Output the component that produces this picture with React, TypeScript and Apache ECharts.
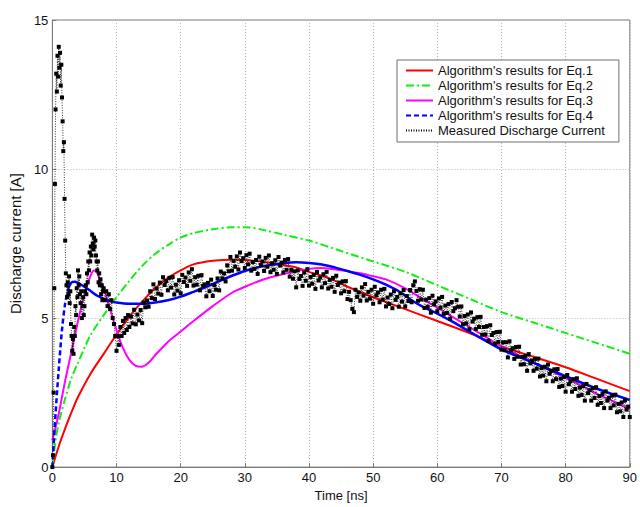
import React, { useEffect, useRef } from "react";
import * as echarts from "echarts";

const xTicks = [0, 10, 20, 30, 40, 50, 60, 70, 80, 90];
const yTicks = [0, 5, 10, 15];

const seriesNames = [
  "Algorithm's results for Eq.1",
  "Algorithm's results for Eq.2",
  "Algorithm's results for Eq.3",
  "Algorithm's results for Eq.4",
  "Measured Discharge Current",
];

const eq1: [number, number][] = [
  [0, 0], [1, 0.7], [2, 1.3], [3, 1.85], [4, 2.35], [6, 3.15], [8, 3.8], [10, 4.45],
  [12, 5.05], [14, 5.55], [16, 6.0], [18, 6.35], [20, 6.6], [22, 6.8], [25, 6.92],
  [28, 6.96], [30, 6.95], [33, 6.88], [36, 6.78], [38, 6.7], [40, 6.55], [43, 6.35],
  [46, 6.05], [50, 5.7], [55, 5.3], [60, 4.9], [65, 4.5], [70, 4.05], [75, 3.7],
  [80, 3.35], [85, 2.95], [90, 2.55],
];

const eq2: [number, number][] = [
  [0, 0], [0.5, 0.9], [1, 1.5], [2, 2.3], [3, 3.0], [4, 3.5], [5, 4.0], [6, 4.45],
  [8, 5.1], [10, 5.7], [12, 6.25], [14, 6.75], [16, 7.15], [18, 7.45], [20, 7.7],
  [22, 7.85], [25, 7.98], [28, 8.05], [30, 8.05], [33, 7.95], [36, 7.8], [40, 7.6],
  [45, 7.25], [50, 6.9], [55, 6.55], [60, 6.1], [65, 5.65], [70, 5.2], [75, 4.85],
  [80, 4.5], [85, 4.15], [90, 3.8],
];

const eq3: [number, number][] = [
  [0, 0.9], [1, 1.8], [2, 2.9], [3, 3.9], [4, 4.9], [5, 5.8], [6, 6.45], [6.5, 6.6],
  [7, 6.5], [8, 6.0], [9, 5.3], [10, 4.6], [11, 4.0], [12, 3.6], [13, 3.4], [14, 3.37],
  [15, 3.5], [16, 3.75], [18, 4.2], [20, 4.55], [22, 4.9], [25, 5.4], [28, 5.85],
  [30, 6.05], [33, 6.3], [36, 6.48], [40, 6.65], [42, 6.68], [45, 6.6], [48, 6.5],
  [50, 6.4], [52, 6.3], [55, 6.0], [58, 5.6], [60, 5.35], [65, 4.7], [70, 4.05],
  [75, 3.5], [80, 3.0], [85, 2.45], [90, 1.95],
];

const eq4: [number, number][] = [
  [0, 0], [0.5, 1.8], [1, 3.3], [1.5, 4.6], [2, 5.5], [2.5, 6.0], [3, 6.2], [3.5, 6.22],
  [4, 6.18], [5, 6.05], [6, 5.9], [7, 5.75], [8, 5.65], [9, 5.57], [10, 5.52], [12, 5.48],
  [14, 5.48], [16, 5.52], [18, 5.6], [20, 5.72], [22, 5.88], [24, 6.05], [26, 6.24],
  [28, 6.42], [30, 6.58], [32, 6.7], [34, 6.78], [36, 6.84], [38, 6.87], [40, 6.85],
  [42, 6.8], [44, 6.7], [46, 6.58], [48, 6.45], [50, 6.3], [52, 6.12], [54, 5.9],
  [56, 5.6], [58, 5.35], [60, 5.15], [62, 4.92], [65, 4.55], [70, 3.95], [75, 3.5],
  [80, 3.05], [85, 2.62], [90, 2.25],
];

// measured samples: [time ns, current A]
const measuredEarly: [number, number][] = [
  [0, 0], [0.1, 0.4], [0.2, 2.5], [0.3, 6], [0.4, 9.5], [0.5, 12], [0.6, 13.2], [0.7, 12.6],
  [0.8, 13.8], [0.9, 13.1], [1.0, 14.1], [1.1, 13.4], [1.2, 13.9], [1.3, 12.8], [1.4, 13.5],
  [1.5, 12.4], [1.6, 11.6], [1.7, 10.6], [1.8, 10.9], [1.9, 9.0], [2.0, 7.6], [2.1, 6.5],
  [2.2, 6.1], [2.3, 5.7], [2.4, 6.2], [2.5, 5.8], [2.6, 6.4], [2.7, 5.5], [2.8, 5.9],
  [2.9, 4.8], [3.0, 4.4], [3.1, 3.9], [3.2, 4.3], [3.3, 3.8], [3.4, 4.7], [3.5, 4.4],
  [3.6, 5.4], [3.7, 5.1], [3.8, 6.0], [3.9, 5.7], [4.0, 6.6], [4.1, 6.1], [4.2, 6.4],
  [4.3, 5.8], [4.4, 5.5], [4.5, 5.9], [4.6, 5.0], [4.7, 5.4], [4.8, 5.7], [4.9, 5.1],
  [5.0, 5.4], [5.1, 5.9], [5.2, 6.1], [5.3, 5.8], [5.4, 6.5], [5.5, 6.2], [5.6, 6.9],
  [5.7, 6.6], [5.8, 7.2], [5.9, 6.9], [6.0, 7.4], [6.1, 7.1], [6.2, 7.8], [6.3, 7.5],
  [6.4, 7.3], [6.5, 7.7], [6.6, 7.4], [6.7, 7.6], [6.8, 7.1], [6.9, 6.9], [7.0, 6.6],
  [7.1, 6.9], [7.2, 6.2], [7.3, 6.5], [7.4, 6.1], [7.5, 6.3], [7.6, 5.8], [7.7, 6.1],
  [7.8, 5.6], [7.9, 5.9], [8.0, 6.0], [8.2, 5.6], [8.4, 5.9], [8.6, 5.4], [8.8, 5.8],
  [9.0, 5.3], [9.2, 5.6], [9.4, 5.0], [9.6, 4.8], [9.8, 4.4], [10.0, 3.9], [10.2, 4.4],
  [10.4, 4.1], [10.6, 4.7], [10.8, 4.4], [11.0, 4.9], [11.2, 4.5], [11.4, 5.0], [11.6, 4.6],
  [11.8, 5.1], [12.0, 4.7],
];

const measuredLate: [number, number][] = [
  [12.25, 5.05], [12.5, 4.82], [12.75, 5.28], [13, 4.79], [13.25, 5.12], [13.5, 4.92], [13.75, 5.27],
  [14, 4.83], [14.25, 5.52], [14.5, 5.36], [14.75, 5.59], [15, 5.38], [15.25, 5.9], [15.5, 5.67], [15.75, 6.13],
  [16, 5.64], [16.25, 5.99], [16.5, 5.82], [16.75, 6.19], [17, 5.78], [17.25, 6.37], [17.5, 6.11], [17.75, 6.24],
  [18, 5.93], [18.25, 6.35], [18.5, 6.02], [18.75, 6.38], [19, 5.79], [19.25, 6.12], [19.5, 5.92], [19.75, 6.27],
  [20, 5.83], [20.25, 6.45], [20.5, 6.21], [20.75, 6.36], [21, 6.08], [21.25, 6.53], [21.5, 6.25], [21.75, 6.64],
  [22, 6.09], [22.25, 6.37], [22.5, 6.12], [22.75, 6.42], [23, 5.93], [23.25, 6.44], [23.5, 6.08], [23.75, 6.13],
  [24, 5.73], [24.25, 6.18], [24.5, 5.9], [24.75, 6.29], [25, 5.74], [25.25, 6.1], [25.5, 5.95], [25.75, 6.33],
  [26, 5.93], [26.25, 6.56], [26.5, 6.33], [26.75, 6.5], [27, 6.23], [27.25, 6.77], [27.5, 6.57], [27.75, 7.05],
  [28, 6.59], [28.25, 6.92], [28.5, 6.72], [28.75, 7.07], [29, 6.63], [29.25, 7.2], [29.5, 6.91], [29.75, 7.01],
  [30, 6.68], [30.25, 7.11], [30.5, 6.8], [30.75, 7.16], [31, 6.59], [31.25, 6.88], [31.5, 6.65], [31.75, 6.95],
  [32, 6.48], [32.25, 7.06], [32.5, 6.78], [32.75, 6.9], [33, 6.58], [33.25, 7.02], [33.5, 6.72], [33.75, 7.1],
  [34, 6.54], [34.25, 6.84], [34.5, 6.62], [34.75, 6.94], [35, 6.48], [35.25, 7.05], [35.5, 6.76], [35.75, 6.86],
  [36, 6.53], [36.25, 6.95], [36.5, 6.62], [36.75, 6.98], [37, 6.39], [37.25, 6.62], [37.5, 6.32], [37.75, 6.57],
  [38, 6.03], [38.25, 6.6], [38.5, 6.31], [38.75, 6.41], [39, 6.08], [39.25, 6.53], [39.5, 6.25], [39.75, 6.64],
  [40, 6.09], [40.25, 6.38], [40.5, 6.15], [40.75, 6.45], [41, 5.98], [41.25, 6.55], [41.5, 6.26], [41.75, 6.36],
  [42, 6.03], [42.25, 6.47], [42.5, 6.17], [42.75, 6.55], [43, 5.99], [43.25, 6.28], [43.5, 6.05], [43.75, 6.35],
  [44, 5.88], [44.25, 6.42], [44.5, 6.11], [44.75, 6.19], [45, 5.83], [45.25, 6.23], [45.5, 5.9], [45.75, 6.24],
  [46, 5.64], [46.25, 5.88], [46.5, 5.6], [46.75, 5.31], [47, 5.2], [47.25, 5.95], [47.5, 5.71], [47.75, 5.86],
  [48, 5.58], [48.25, 6.03], [48.5, 5.75], [48.75, 6.14], [49, 5.59], [49.25, 5.88], [49.5, 5.65], [49.75, 5.95],
  [50, 5.48], [50.25, 6.05], [50.5, 5.76], [50.75, 5.86], [51, 5.53], [51.25, 5.95], [51.5, 5.62], [51.75, 5.98],
  [52, 5.39], [52.25, 5.69], [52.5, 5.47], [52.75, 5.79], [53, 5.33], [53.25, 5.9], [53.5, 5.61], [53.75, 5.71],
  [54, 5.38], [54.25, 5.83], [54.5, 5.55], [54.75, 5.94], [55, 5.39], [55.25, 5.74], [55.5, 5.57], [55.75, 5.94],
  [56, 5.53], [56.25, 6.1], [56.5, 6.23], [56.75, 5.91], [57, 5.58], [57.25, 5.97], [57.5, 5.62], [57.75, 5.95],
  [58, 5.34], [58.25, 5.62], [58.5, 5.37], [58.75, 5.67], [59, 5.18], [59.25, 5.75], [59.5, 5.46], [59.75, 5.56],
  [60, 5.23], [60.25, 5.66], [60.5, 5.35], [60.75, 5.71], [61, 5.14], [61.25, 5.42], [61.5, 5.17], [61.75, 5.47],
  [62, 4.98], [62.25, 5.54], [62.5, 5.23], [62.75, 5.33], [63, 5.6], [63.25, 5.38], [63.5, 5.05], [63.75, 5.39],
  [64, 4.79], [64.25, 5.07], [64.5, 4.82], [64.75, 5.12], [65, 4.63], [65.25, 5.19], [65.5, 4.88], [65.75, 4.98],
  [66, 4.63], [66.25, 5.03], [66.5, 4.7], [66.75, 5.04], [67, 4.44], [67.25, 4.7], [67.5, 4.45], [67.75, 4.73],
  [68, 4.23], [68.25, 4.76], [68.5, 4.43], [68.75, 4.5], [69, 4.13], [69.25, 4.53], [69.5, 4.2], [69.75, 4.54],
  [70, 3.94], [70.25, 4.19], [70.5, 3.92], [70.75, 4.19], [71, 3.68], [71.25, 4.22], [71.5, 3.91], [71.75, 3.99],
  [72, 3.63], [72.25, 4.03], [72.5, 3.7], [72.75, 4.04], [73, 3.44], [73.25, 3.7], [73.5, 3.45], [73.75, 3.73],
  [74, 3.23], [74.25, 3.79], [74.5, 3.48], [74.75, 3.58], [75, 3.23], [75.25, 3.63], [75.5, 3.3], [75.75, 3.64],
  [76, 3.04], [76.25, 3.32], [76.5, 3.07], [76.75, 3.37], [77, 2.88], [77.25, 3.44], [77.5, 3.13], [77.75, 3.23],
  [78, 2.88], [78.25, 3.28], [78.5, 2.95], [78.75, 3.29], [79, 2.69], [79.25, 2.97], [79.5, 2.72], [79.75, 3.02],
  [80, 2.53], [80.25, 3.09], [80.5, 2.78], [80.75, 2.88], [81, 2.53], [81.25, 2.95], [81.5, 2.62], [81.75, 2.98],
  [82, 2.39], [82.25, 2.67], [82.5, 2.42], [82.75, 2.72], [83, 2.23], [83.25, 2.79], [83.5, 2.48], [83.75, 2.58],
  [84, 2.23], [84.25, 2.65], [84.5, 2.32], [84.75, 2.68], [85, 2.09], [85.25, 2.38], [85.5, 2.15], [85.75, 2.45],
  [86, 1.98], [86.25, 2.54], [86.5, 2.23], [86.75, 2.33], [87, 1.98], [87.25, 2.4], [87.5, 2.07], [87.75, 2.43],
  [88, 1.84], [88.25, 2.12], [88.5, 1.87], [88.75, 2.17], [89, 1.68], [89.25, 2.24], [89.5, 1.93], [89.75, 2.03],
  [90, 1.68],
];

const FONT = "Liberation Sans, Arial, Helvetica, sans-serif";

export default function App() {
  const ref = useRef<HTMLDivElement>(null);
  useEffect(() => {
    if (!ref.current) return;
    const chart = echarts.init(ref.current, undefined, { renderer: "svg" });
    const riseEnd = 2.5;
    const eq4Rise = eq4.filter((p) => p[0] <= riseEnd);
    const eq4Main = eq4.filter((p) => p[0] >= riseEnd);
    const measured = measuredEarly.concat(measuredLate);
    const axisCommon = {
      axisLine: { show: true, lineStyle: { color: "#7a7a7a", width: 1 } },
      axisTick: { show: true, inside: true, length: 4, lineStyle: { color: "#7a7a7a" } },
      axisLabel: { fontFamily: FONT, fontSize: 13, color: "#111", margin: 4 },
      splitLine: { show: true, lineStyle: { color: "#b8b8b8", type: [1, 2], width: 1 } },
    };
    chart.setOption({
      animation: false,
      backgroundColor: "#ffffff",
      grid: {
        left: 49,
        right: 10,
        top: 20,
        bottom: 33,
        show: true,
        borderColor: "#7a7a7a",
        borderWidth: 1,
        backgroundColor: "transparent",
      },
      legend: {
        orient: "vertical",
        left: 397,
        top: 60,
        padding: [4, 14, 5, 8],
        itemGap: 2,
        itemWidth: 27,
        itemHeight: 13,
        backgroundColor: "#ffffff",
        borderColor: "#6e6e6e",
        borderWidth: 1,
        borderRadius: 0,
        itemStyle: { opacity: 0 },
        textStyle: { fontFamily: FONT, fontSize: 13, color: "#111" },
        data: seriesNames,
      },
      xAxis: {
        type: "value",
        min: xTicks[0],
        max: xTicks[xTicks.length - 1],
        interval: 10,
        name: "Time [ns]",
        nameLocation: "middle",
        nameGap: 14,
        nameTextStyle: { fontFamily: FONT, fontSize: 13, color: "#111" },
        ...axisCommon,
      },
      yAxis: {
        type: "value",
        min: yTicks[0],
        max: yTicks[yTicks.length - 1],
        interval: 5,
        name: "Discharge current [A]",
        nameLocation: "middle",
        nameGap: 24,
        nameTextStyle: { fontFamily: FONT, fontSize: 15, color: "#111" },
        ...axisCommon,
      },
      series: [
        {
          name: seriesNames[0],
          type: "line",
          data: eq1,
          smooth: 0.3,
          symbol: "none",
          lineStyle: { color: "#ff0000", width: 2 },
          itemStyle: { color: "#ff0000" },
          z: 2,
        },
        {
          name: seriesNames[1],
          type: "line",
          data: eq2,
          smooth: 0.3,
          symbol: "none",
          lineStyle: { color: "#11ee11", width: 2, type: [8, 3, 2, 3] },
          itemStyle: { color: "#11ee11" },
          z: 2,
        },
        {
          name: seriesNames[2],
          type: "line",
          data: eq3,
          smooth: 0.3,
          symbol: "none",
          lineStyle: { color: "#ff00ff", width: 2 },
          itemStyle: { color: "#ff00ff" },
          z: 2,
        },
        {
          name: seriesNames[3],
          type: "line",
          data: eq4Rise,
          smooth: 0.3,
          symbol: "none",
          lineStyle: { color: "#0000ff", width: 2.5, type: [5, 3] },
          itemStyle: { color: "#0000ff" },
          z: 3,
        },
        {
          name: seriesNames[3] + " ",
          type: "line",
          data: eq4Main,
          smooth: 0.3,
          symbol: "none",
          lineStyle: { color: "#0000ff", width: 2.5 },
          itemStyle: { color: "#0000ff" },
          z: 3,
        },
        {
          name: seriesNames[4],
          type: "line",
          data: measured,
          symbol: "rect",
          symbolSize: 4,
          showSymbol: true,
          showAllSymbol: true,
          lineStyle: { color: "#000000", width: 0.8, type: [1, 1.5] },
          itemStyle: { color: "#000000" },
          z: 4,
        },
      ],
    });
    return () => chart.dispose();
  }, []);
  return (
    <div
      ref={ref}
      style={{ position: "fixed", left: 0, top: 0, width: 640, height: 507, background: "#fff" }}
    />
  );
}
